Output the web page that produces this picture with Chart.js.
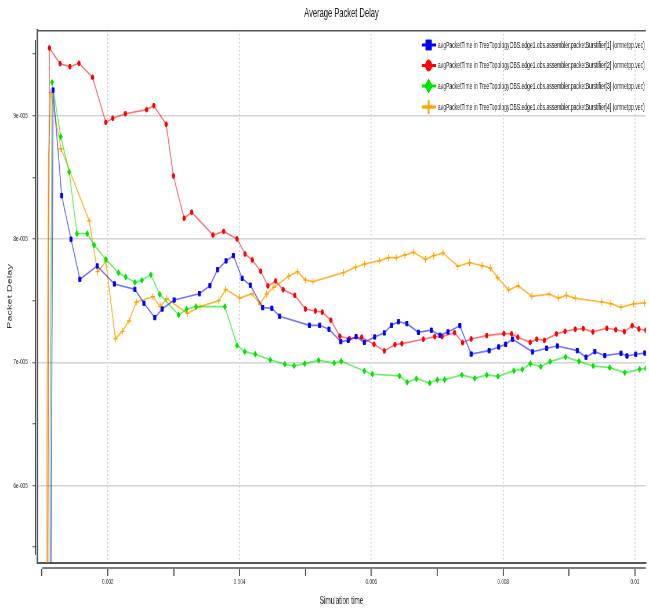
<!DOCTYPE html>
<html>
<head>
<meta charset="utf-8">
<title>Average Packet Delay</title>
<script src="https://cdn.jsdelivr.net/npm/chart.js@4.4.1/dist/chart.umd.min.js"></script>
<style>
  html, body { margin: 0; padding: 0; background: #fff; overflow: hidden; }
</style>
</head>
<body>
<!-- the chart is drawn wide and shown squeezed, like the original export -->
<canvas id="c" width="1119" height="610" style="display:block;width:649px;height:610px"></canvas>
<script>
// simulation time in ms, packet delay in units of 1e-5 s
const redTime = [1.086, 1.114, 1.276, 1.426, 1.562, 1.769, 1.970, 2.076, 2.267, 2.589, 2.699, 2.886, 2.996, 3.158, 3.273, 3.596, 3.759, 3.962, 4.083, 4.193, 4.320, 4.430, 4.546, 4.661, 4.838, 4.999, 5.150, 5.256, 5.386, 5.522, 5.668, 5.854, 6.041, 6.196, 6.358, 6.463, 6.789, 6.962, 7.072, 7.263, 7.384, 7.514, 7.751, 8.012, 8.128, 8.223, 8.411, 8.510, 8.626, 8.808, 8.939, 9.094, 9.215, 9.362, 9.573, 9.709, 9.839, 9.959, 10.060, 10.166, 10.27];
const redDelay = [4.5, 9.549, 9.422, 9.397, 9.425, 9.311, 8.946, 8.979, 9.016, 9.049, 9.081, 8.930, 8.511, 8.168, 8.217, 8.032, 8.061, 8.000, 7.878, 7.830, 7.738, 7.619, 7.659, 7.589, 7.543, 7.432, 7.416, 7.406, 7.341, 7.211, 7.191, 7.203, 7.146, 7.092, 7.143, 7.151, 7.187, 7.208, 7.208, 7.240, 7.159, 7.189, 7.216, 7.232, 7.230, 7.203, 7.162, 7.187, 7.178, 7.230, 7.251, 7.268, 7.273, 7.246, 7.276, 7.264, 7.248, 7.297, 7.270, 7.260, 7.25];

const blueTime = [1.132, 1.170, 1.301, 1.442, 1.577, 1.839, 2.101, 2.412, 2.548, 2.714, 2.826, 3.007, 3.389, 3.550, 3.665, 3.796, 3.906, 4.038, 4.163, 4.350, 4.491, 4.607, 5.060, 5.215, 5.356, 5.537, 5.648, 5.769, 5.894, 6.050, 6.196, 6.306, 6.412, 6.539, 6.714, 6.910, 7.042, 7.162, 7.343, 7.514, 7.786, 7.932, 8.038, 8.143, 8.445, 8.661, 8.823, 9.125, 9.256, 9.392, 9.543, 9.789, 9.879, 10.011, 10.151, 10.27];
const blueDelay = [4.5, 9.208, 8.351, 7.998, 7.673, 7.781, 7.635, 7.592, 7.479, 7.362, 7.432, 7.505, 7.556, 7.621, 7.751, 7.822, 7.865, 7.681, 7.625, 7.443, 7.438, 7.373, 7.300, 7.300, 7.268, 7.167, 7.178, 7.208, 7.162, 7.205, 7.238, 7.300, 7.329, 7.313, 7.243, 7.260, 7.219, 7.246, 7.297, 7.067, 7.094, 7.124, 7.146, 7.187, 7.084, 7.114, 7.132, 7.094, 7.041, 7.086, 7.054, 7.073, 7.051, 7.065, 7.075, 7.08];

const greenTime = [1.122, 1.125, 1.155, 1.286, 1.416, 1.532, 1.688, 1.793, 1.970, 2.162, 2.272, 2.412, 2.518, 2.654, 2.789, 3.076, 3.197, 3.339, 3.777, 3.962, 4.079, 4.239, 4.465, 4.687, 4.827, 4.989, 5.200, 5.437, 5.543, 5.894, 6.015, 6.427, 6.543, 6.684, 6.886, 7.001, 7.113, 7.374, 7.570, 7.751, 7.922, 8.163, 8.290, 8.411, 8.571, 8.713, 8.948, 9.150, 9.366, 9.618, 9.845, 10.071, 10.166, 10.27];
const greenDelay = [4.5, 6.329, 9.271, 8.830, 8.543, 8.043, 8.043, 7.951, 7.835, 7.727, 7.692, 7.649, 7.665, 7.710, 7.552, 7.384, 7.430, 7.451, 7.451, 7.136, 7.086, 7.065, 7.019, 6.984, 6.972, 6.989, 7.016, 6.994, 7.008, 6.929, 6.903, 6.889, 6.838, 6.867, 6.832, 6.859, 6.859, 6.897, 6.870, 6.897, 6.886, 6.932, 6.943, 6.989, 6.964, 7.005, 7.043, 7.008, 6.970, 6.956, 6.916, 6.943, 6.951, 6.96];

const orangeTime = [1.072, 1.076, 1.099, 1.135, 1.291, 1.718, 1.845, 1.970, 2.116, 2.222, 2.322, 2.433, 2.684, 2.796, 2.895, 3.208, 3.399, 3.686, 3.789, 4.003, 4.189, 4.309, 4.411, 4.521, 4.747, 4.879, 4.999, 5.114, 5.577, 5.759, 5.899, 6.121, 6.261, 6.377, 6.509, 6.639, 6.820, 6.946, 7.087, 7.313, 7.490, 7.680, 7.807, 7.917, 8.083, 8.229, 8.435, 8.697, 8.842, 8.959, 9.094, 9.497, 9.633, 9.789, 9.980, 10.146, 10.27];
const orangeDelay = [4.5, 6.289, 8.641, 9.187, 8.732, 8.146, 7.735, 7.816, 7.191, 7.251, 7.335, 7.489, 7.532, 7.451, 7.516, 7.397, 7.451, 7.500, 7.590, 7.520, 7.556, 7.473, 7.554, 7.608, 7.698, 7.735, 7.667, 7.654, 7.727, 7.771, 7.797, 7.824, 7.848, 7.848, 7.870, 7.892, 7.835, 7.865, 7.886, 7.779, 7.808, 7.783, 7.765, 7.686, 7.586, 7.621, 7.535, 7.552, 7.521, 7.543, 7.519, 7.489, 7.475, 7.446, 7.473, 7.481, 7.47];

const seriesLabels = [1, 2, 3, 4].map(n =>
  'avgPacketTime in TreeTopologyOBS.edge1.obs.assembler.packetBurstifier[' + n + '] (omnetpp.vec)');

const FONT = '"Liberation Sans", Arial, sans-serif';
Chart.defaults.font.family = FONT;
Chart.defaults.color = '#333';

function pts(t, d){ return t.map((v, i) => ({x: v, y: d[i]})); }

// first few samples climb from below the axis, drawn without markers
function series(label, time, delay, rgb, lineAlpha, style, r, bw, hidden){
  const solid = 'rgb(' + rgb + ')';
  return {
    label,
    data: pts(time, delay),
    borderColor: 'rgba(' + rgb + ',' + lineAlpha + ')',
    borderWidth: 1.7,
    backgroundColor: solid,
    pointStyle: style,
    pointBackgroundColor: solid,
    pointBorderColor: solid,
    pointBorderWidth: bw,
    pointRadius: ctx => ctx.dataIndex < hidden ? 0 : r,
    tension: 0
  };
}

const datasets = [
  series(seriesLabels[0], blueTime, blueDelay, '0,0,255', 0.55, 'rect', 3, 1, 1),
  series(seriesLabels[1], redTime, redDelay, '255,0,0', 0.55, 'circle', 2.4, 1, 1),
  series(seriesLabels[2], greenTime, greenDelay, '0,230,0', 0.6, 'rectRot', 3, 1, 2),
  series(seriesLabels[3], orangeTime, orangeDelay, '255,165,0', 0.8, 'cross', 3.5, 1.4, 3)
];

const legendRows = [45, 65.5, 86, 107];
const legendRadius = [7, 5.5, 7, 7];

const framePlugin = {
  id: 'frame',
  afterDraw(chart){
    const {ctx, chartArea: a, scales: {x}} = chart;
    ctx.save();
    ctx.strokeStyle = '#555';
    ctx.lineWidth = 1.5;
    ctx.beginPath(); ctx.moveTo(a.left, a.top + 0.75); ctx.lineTo(a.right, a.top + 0.75); ctx.stroke();
    // detached axis lines
    ctx.beginPath(); ctx.moveTo(x.getPixelForValue(1), a.bottom + 5); ctx.lineTo(a.right, a.bottom + 5); ctx.stroke();
    ctx.lineWidth = 2;
    ctx.beginPath(); ctx.moveTo(a.left - 3, a.top + 10); ctx.lineTo(a.left - 3, a.bottom - 8); ctx.stroke();

    // legend inside the plot, top right
    chart.data.datasets.forEach((ds, i) => {
      const yy = legendRows[i];
      ctx.strokeStyle = ds.pointBorderColor;
      ctx.fillStyle = ds.pointBackgroundColor;
      ctx.lineWidth = 3;
      ctx.beginPath(); ctx.moveTo(727, yy); ctx.lineTo(752, yy); ctx.stroke();
      ctx.lineWidth = ds.pointStyle === 'cross' ? 3 : 1;
      Chart.helpers.drawPoint(ctx, {pointStyle: ds.pointStyle, radius: legendRadius[i], borderWidth: ctx.lineWidth, rotation: 0}, 739, yy);
      ctx.fillStyle = '#111';
      ctx.font = '8.7px ' + FONT;
      ctx.textBaseline = 'middle';
      ctx.textAlign = 'left';
      ctx.fillText(ds.label, 755, yy + 0.5);
    });
    ctx.restore();
  }
};

new Chart(document.getElementById('c'), {
  type: 'line',
  data: { datasets },
  plugins: [framePlugin],
  options: {
    responsive: false,
    devicePixelRatio: 1,
    animation: false,
    layout: { padding: 0 },
    plugins: {
      legend: { display: false },
      tooltip: { enabled: false },
      title: {
        display: true,
        text: 'Average Packet Delay',
        fullSize: false,
        color: '#222',
        font: { size: 13, weight: 'normal' },
        padding: { top: 6, bottom: 8.4 }
      }
    },
    scales: {
      x: {
        type: 'linear',
        min: 0.928,
        max: 10.166,
        afterFit: s => { s.height = 47; },
        title: { display: true, text: 'Simulation time', color: '#222', font: { size: 11 }, padding: { top: 0, bottom: 2.4 } },
        ticks: {
          stepSize: 1,
          includeBounds: false,
          autoSkip: false,
          maxRotation: 0,
          padding: 1,
          font: { size: 8 },
          callback: v => v % 2 === 0 ? String(v / 1000) : ''
        },
        grid: {
          color: c => (c.tick && c.tick.value % 2 === 0) ? '#bdbdbd' : 'rgba(0,0,0,0)',
          lineWidth: 1.6,
          tickColor: '#444',
          tickWidth: 1.8,
          tickLength: 13,
          tickBorderDash: [0, 5, 8]
        },
        border: { display: true, color: '#555', width: 2, dash: [1.5, 2.5] }
      },
      y: {
        min: 5.372,
        max: 9.695,
        afterFit: s => { s.width = 64; },
        title: { display: true, text: 'Packet Delay', color: '#333', font: { size: 11 }, padding: { top: 10.3, bottom: 0 } },
        ticks: {
          stepSize: 0.5,
          includeBounds: false,
          autoSkip: false,
          padding: 8,
          font: { size: 8 },
          callback: v => Number.isInteger(v) ? v + 'e-005' : ''
        },
        grid: {
          color: c => (c.tick && Number.isInteger(c.tick.value)) ? '#d4d4d4' : 'rgba(0,0,0,0)',
          lineWidth: 1.5,
          tickColor: '#444',
          tickWidth: 1,
          tickLength: 8,
          tickBorderDash: [5, 10]
        },
        border: { display: true, color: '#555', width: 3 }
      }
    }
  }
});
</script>
</body>
</html>
